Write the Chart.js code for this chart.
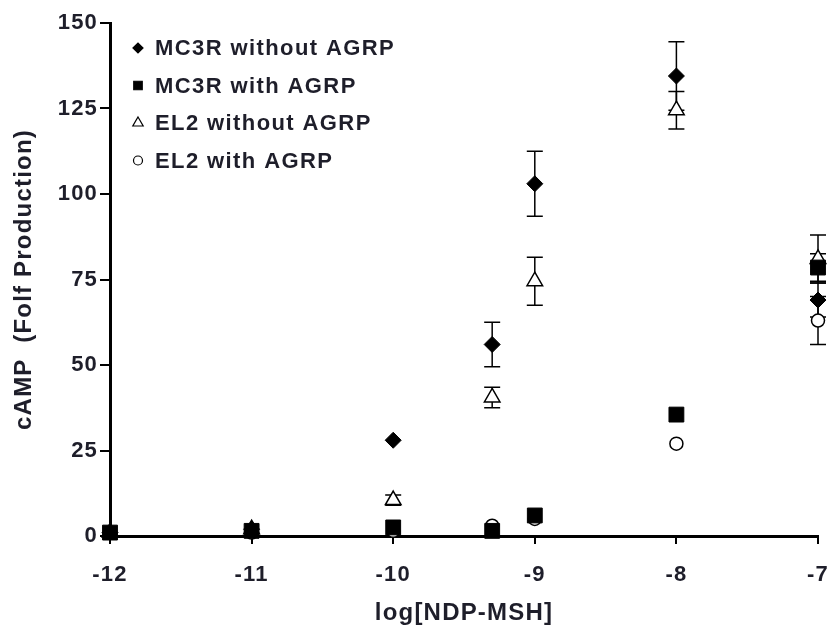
<!DOCTYPE html>
<html>
<head>
<meta charset="utf-8">
<script src="https://cdn.jsdelivr.net/npm/chart.js@4.4.1/dist/chart.umd.min.js"></script>
<style>
  html, body { margin: 0; padding: 0; background: #fff; }
  #wrap { width: 830px; height: 637px; }
</style>
</head>
<body>
<div id="wrap"><canvas id="chart"></canvas></div>
<script>
// log[NDP-MSH] doses
const doses = [-12, -11, -10, -9.301, -9, -8, -7];
const xTicks = [-12, -11, -10, -9, -8, -7];
const yTicks = [0, 25, 50, 75, 100, 125, 150];

const seriesNames = ['MC3R without AGRP', 'MC3R with AGRP', 'EL2 without AGRP', 'EL2 with AGRP'];
const mc3rWithout = [1, 2, 28, 56, 103, 134.5, 69];
const mc3rWithoutErr = [0.5, 1, 1, 6.5, 9.5, 10, 5];
const mc3rWith = [1, 1.5, 2.5, 1.5, 6, 35.5, 78.5];
const mc3rWithErr = [0.5, 0.5, 0.5, 0.5, 1, 1, 4];
const el2Without = [1, 2, 10.5, 40.5, 74.5, 124.5, 81];
const el2WithoutErr = [0.3, 0.5, 1.5, 3, 7, 5.5, 7];
const el2With = [1, 1, 1.5, 3, 5, 27, 63];
const el2WithErr = [0.3, 0.3, 0.3, 0.5, 0.5, 0.5, 7];

const FONT = "'Liberation Sans', Arial, sans-serif";
const INK = '#1e1e2a';

function pts(ys) {
    return doses.map((x, i) => ({ x: x, y: ys[i] }));
}

// the old chart text is spaced out a little
const spacing = {
    id: 'spacing',
    beforeLayout(chart) { chart.ctx.letterSpacing = '1.2px'; },
    beforeDraw(chart) { chart.ctx.letterSpacing = '1.2px'; }
};

// error bars, drawn under the markers
const errorBars = {
    id: 'errorBars',
    beforeDatasetsDraw(chart) {
        const ctx = chart.ctx;
        const xs = chart.scales.x, ys = chart.scales.y;
        ctx.save();
        ctx.strokeStyle = '#000';
        ctx.lineWidth = 1.5;
        chart.data.datasets.forEach(ds => {
            ds.data.forEach((p, i) => {
                const e = ds.errors[i];
                if (!e || e < 1.5) return;
                const px = xs.getPixelForValue(p.x);
                const top = ys.getPixelForValue(p.y + e);
                const bot = ys.getPixelForValue(p.y - e);
                ctx.beginPath();
                ctx.moveTo(px, top); ctx.lineTo(px, bot);
                ctx.moveTo(px - 8, top); ctx.lineTo(px + 8, top);
                ctx.moveTo(px - 8, bot); ctx.lineTo(px + 8, bot);
                ctx.stroke();
            });
        });
        ctx.restore();
    }
};

// legend inside the plot, upper left
const plotLegend = {
    id: 'plotLegend',
    afterDraw(chart) {
        const ctx = chart.ctx;
        const area = chart.chartArea;
        ctx.save();
        ctx.font = 'bold 22px ' + FONT;
        ctx.letterSpacing = '1.4px';
        ctx.textBaseline = 'middle';
        chart.data.datasets.forEach((ds, i) => {
            const y = area.top + 25 + i * 37.5;
            const x = area.left + 28;
            ctx.fillStyle = ds.pointBackgroundColor;
            ctx.strokeStyle = '#000';
            ctx.lineWidth = 1.2;
            Chart.helpers.drawPoint(ctx, { pointStyle: ds.pointStyle, radius: ds.legendRadius, rotation: 0, borderWidth: 1.2 }, x, y);
            ctx.fillStyle = INK;
            ctx.fillText(ds.label, x + 17, y + 1);
        });
        ctx.restore();
    }
};

new Chart(document.getElementById('chart'), {
    type: 'scatter',
    data: {
        datasets: [
            { label: seriesNames[0], data: pts(mc3rWithout), errors: mc3rWithoutErr, pointStyle: 'rectRot', pointRadius: 8, legendRadius: 5, pointBackgroundColor: '#000', pointBorderColor: '#000', pointBorderWidth: 1, clip: false },
            { label: seriesNames[1], data: pts(mc3rWith), errors: mc3rWithErr, pointStyle: 'rect', pointRadius: 10.5, legendRadius: 6, pointBackgroundColor: '#000', pointBorderColor: '#000', pointBorderWidth: 1, clip: false },
            { label: seriesNames[2], data: pts(el2Without), errors: el2WithoutErr, pointStyle: 'triangle', pointRadius: 9, legendRadius: 6, pointBackgroundColor: '#fff', pointBorderColor: '#000', pointBorderWidth: 1.5, clip: false },
            { label: seriesNames[3], data: pts(el2With), errors: el2WithErr, pointStyle: 'circle', pointRadius: 6.5, legendRadius: 4.5, pointBackgroundColor: '#fff', pointBorderColor: '#000', pointBorderWidth: 1.5, clip: false }
        ]
    },
    options: {
        responsive: true,
        maintainAspectRatio: false,
        animation: false,
        layout: { padding: { left: 0, right: 12, top: 23, bottom: 0 } },
        plugins: {
            legend: { display: false },
            tooltip: { enabled: false }
        },
        scales: {
            x: {
                type: 'linear',
                min: -12,
                max: -7,
                afterBuildTicks: axis => { axis.ticks = xTicks.map(v => ({ value: v })); },
                afterFit: axis => { axis.height = 101; axis.paddingLeft = 0; axis.paddingRight = 0; },
                border: { display: true, color: '#000', width: 3 },
                grid: { display: true, drawOnChartArea: false, drawTicks: true, tickLength: 8, color: '#000', lineWidth: 2 },
                ticks: { color: INK, font: { family: FONT, size: 22, weight: 'bold' }, padding: 18, maxRotation: 0 },
                title: { display: true, text: 'log[NDP-MSH]', color: INK, font: { family: FONT, size: 24, weight: 'bold' }, padding: { top: 0, bottom: 9 } }
            },
            y: {
                min: 0,
                max: 150,
                afterBuildTicks: axis => { axis.ticks = yTicks.map(v => ({ value: v })); },
                afterFit: axis => { axis.width = 110; axis.paddingTop = 0; axis.paddingBottom = 0; },
                border: { display: true, color: '#000', width: 3 },
                grid: { display: true, drawOnChartArea: false, drawTicks: true, tickLength: 10, color: '#000', lineWidth: 2 },
                ticks: { color: INK, font: { family: FONT, size: 22, weight: 'bold' }, padding: 2 },
                title: { display: true, text: 'cAMP  (Folf Production)', color: INK, font: { family: FONT, size: 24, weight: 'bold' }, padding: { top: 10, bottom: 0 } }
            }
        }
    },
    plugins: [spacing, errorBars, plotLegend]
});
</script>
</body>
</html>
